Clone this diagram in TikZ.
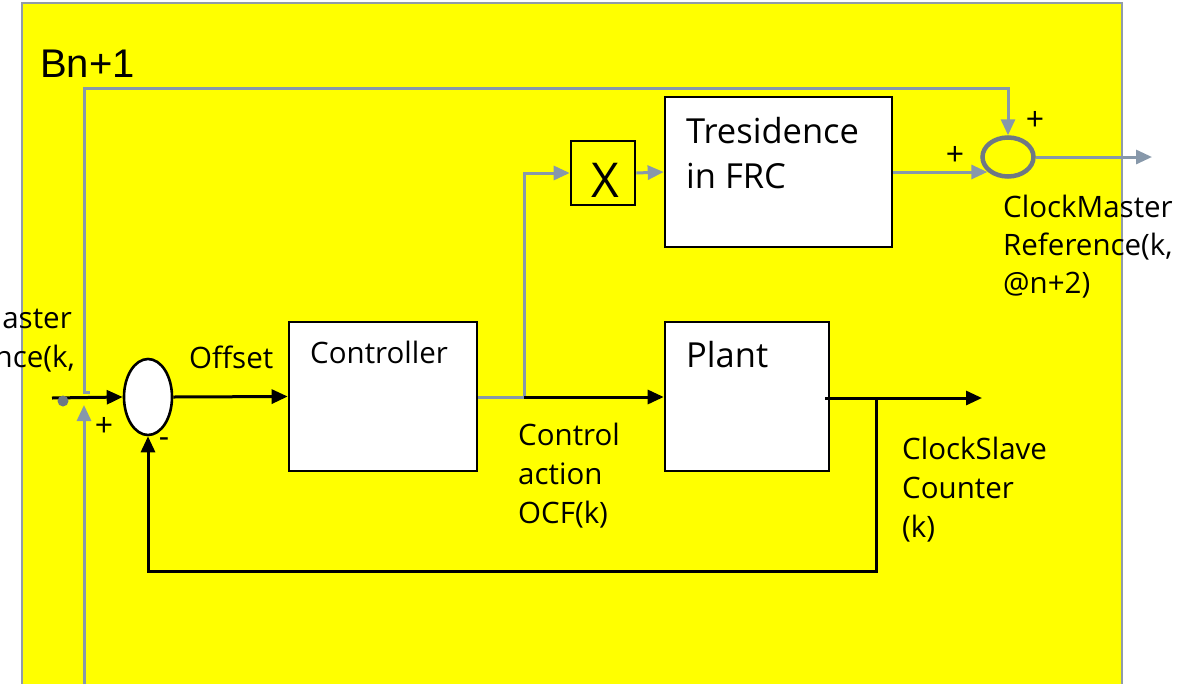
\documentclass[tikz,border=0pt]{standalone}
\usepackage{fontspec}
\setmainfont{Open Sans}
\newfontfamily\headfont{Liberation Sans}
\usetikzlibrary{arrows.meta,shapes.geometric}

\definecolor{panelyellow}{RGB}{255,255,0}
\definecolor{paneledge}{RGB}{145,156,168}
\definecolor{sigray}{RGB}{135,152,170}
\definecolor{sumgray}{RGB}{110,120,132}

\tikzset{
  block/.style={draw=black, line width=2.6pt, fill=white, rectangle, inner sep=0pt},
  sigblack/.style={draw=black, line width=3pt, -{Triangle[length=16pt,width=14pt]}},
  sigline/.style={draw=sigray, line width=3pt},
  siggray/.style={sigline, -{Triangle[length=16pt,width=14pt]}},
  lbl/.style={inner sep=0pt, anchor=base west, align=left, font=\fontsize{29.5}{39}\selectfont},
  biglbl/.style={lbl, font=\fontsize{34.5}{45}\selectfont},
  sign/.style={inner sep=0pt, font=\fontsize{32}{32}\selectfont},
}

\begin{document}
\begin{tikzpicture}[x=1pt, y=-1pt]
\useasboundingbox (0,0) rectangle (1185,683);
\clip (0,0) rectangle (1185,683);

% panel background
\fill[panelyellow] (22,3) rectangle (1122,700);
\draw[paneledge, line width=2.5pt] (22,700) -- (22,3) -- (1122,3) -- (1122,700);
\node[inner sep=0pt, anchor=base west, font=\headfont\fontsize{40}{40}\selectfont] (title) at (40,77) {Bn+1};

% blocks
\node[draw=black, line width=2.6pt, fill=white, ellipse, minimum width=48pt, minimum height=76pt, inner sep=0pt] (sumA) at (148,397) {};
\node[block, minimum width=188pt, minimum height=149pt] (ctrl) at (383,396.5) {};
\node[block, minimum width=164pt, minimum height=149pt] (plant) at (747,396.5) {};
\node[block, minimum width=227pt, minimum height=150pt] (tres) at (778.5,172) {};
\node[draw=black, line width=2.6pt, fill=panelyellow, minimum width=64pt, minimum height=64pt, inner sep=0pt] (mult) at (603,173) {};
\node[draw=sumgray, line width=4.5pt, fill=none, ellipse, minimum width=51pt, minimum height=39pt, inner sep=0pt] (sumB) at (1008,157) {};

% block texts (a multi-line node sits on the baseline of its last line)
\node[lbl] (ctrltxt) at (310,363) {Controller};
\node[biglbl] (planttxt) at (686,367) {Plant};
\node[biglbl] (trestxt) at (686,188) {Tresidence\\in FRC};
\node[inner sep=0pt, anchor=base, font=\fontsize{48}{48}\selectfont] (multtxt) at (605,197) {X};

% junction points and free ends
\coordinate (inStart) at (52,398);
\coordinate (refStart) at (90,392);
\coordinate (refBend) at (84,88);
\coordinate (slaveIn) at (84,700);
\coordinate (slaveTip) at (84,405);
\coordinate (split) at (524,397);
\coordinate (plantOut) at (825,398);
\coordinate (outEnd) at (982,398);
\coordinate (fbTap) at (876,398);
\coordinate (fbLow) at (876,571);
\coordinate (masterOut) at (1152,157);

% reference path over the top into the output summer
\draw[siggray] (refStart) -- (84,392) -- (refBend) -| (sumB.north);
\draw[siggray] (slaveIn) -- (slaveTip);

% main loop
\draw[sigblack] (inStart) -- (sumA.west);
\fill[sumgray] (63,401) circle (5.5pt);
\draw[sigblack] (sumA.east) -- (ctrl.west);
\draw[sigline] (ctrl.east |- split) -- (split);
\draw[siggray] (split) |- (mult.west);
\draw[sigblack] (split) -- (plant.west |- split);
\draw[siggray] (mult.east) -- (tres.west);
\draw[siggray] (tres.east) -- (sumB.215 |- tres.east);
\draw[siggray] (sumB.east) -- (masterOut);
\draw[sigblack] (plantOut) -- (outEnd);
\draw[sigblack] (fbTap) -- (fbLow) -| (sumA.south);

% signs
\node[sign] (pA) at (104,427) {+};
\node[sign] (mA) at (164,443) {-};
\node[sign] (pB1) at (1035,121) {+};
\node[sign] (pB2) at (955,156) {+};

% signal labels
\node[lbl] (offs) at (189,368) {Offset};
\node[lbl] (ocf) at (518,523) {Control\\action\\OCF(k)};
\node[lbl] (slave) at (902,537) {ClockSlave\\Counter\\(k)};
\node[lbl, font=\fontsize{29.5}{38}\selectfont] (master) at (1003,293) {ClockMaster\\Reference(k,\\@n+2)};
\node[inner sep=0pt, anchor=base east, font=\fontsize{29.5}{39}\selectfont] (refL1) at (72,328) {ClockMaster};
\node[inner sep=0pt, anchor=base east, font=\fontsize{29.5}{39}\selectfont] (refL2) at (75,367) {Reference(k,};
\end{tikzpicture}
\end{document}
